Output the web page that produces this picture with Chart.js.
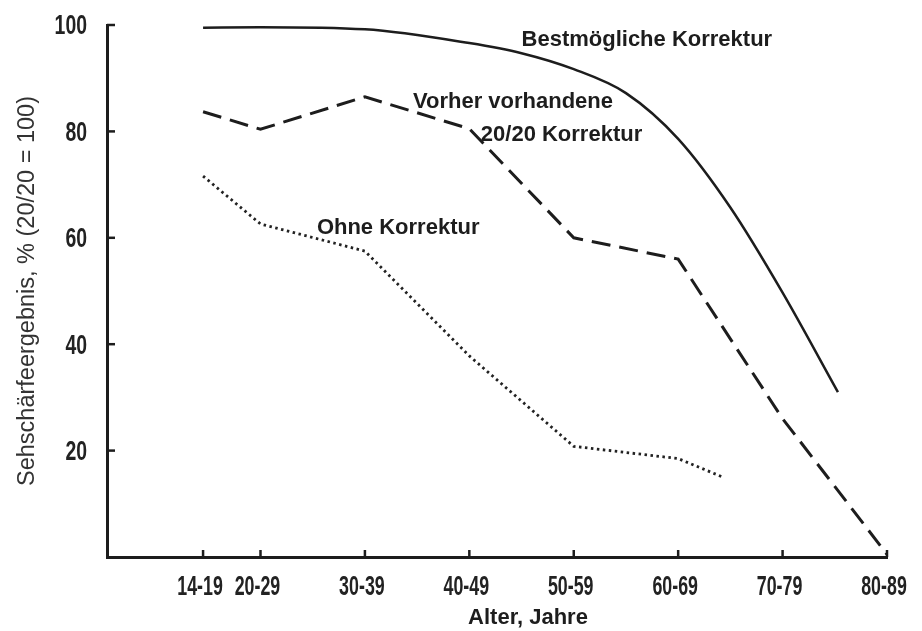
<!DOCTYPE html>
<html>
<head>
<meta charset="utf-8">
<script src="https://cdn.jsdelivr.net/npm/chart.js@4.4.1/dist/chart.umd.min.js"></script>
<style>
  html, body { margin: 0; padding: 0; background: #fff; }
  canvas { display: block; }
</style>
</head>
<body>
<canvas id="chart" width="922" height="631"></canvas>
<script>
// Age groups on the x axis and where each group sits on the age scale
const ageGroupLabels = ['14-19', '20-29', '30-39', '40-49', '50-59', '60-69', '70-79', '80-89'];
const ageGroupPositions = [14.5, 20, 30, 40, 50, 60, 70, 80];

// y axis ticks (visual acuity, 20/20 = 100)
const acuityTicks = [20, 40, 60, 80, 100];

// Best possible correction (smooth curve)
const bestAges = [14.5, 20, 30, 40, 45, 50, 55, 60, 65, 70, 75.3];
const bestValues = [99.5, 99.6, 99.2, 96.6, 94.7, 91.7, 87.2, 78.6, 65.7, 49.7, 31];

// Previously existing 20/20 correction (dashed)
const priorAges = [14.5, 20, 30, 40, 50, 60, 70, 80];
const priorValues = [83.7, 80.4, 86.5, 80.5, 60.0, 56.0, 26.0, 0.5];

// Without correction (dotted)
const noneAges = [14.5, 20, 30, 40, 50, 60, 64.3];
const noneValues = [71.6, 62.6, 57.5, 37.8, 20.8, 18.5, 15];

const seriesNames = ['Bestmögliche Korrektur', 'Vorher vorhandene 20/20 Korrektur', 'Ohne Korrektur'];
const xTitle = 'Alter, Jahre';
const yTitle = 'Sehschärfeergebnis, % (20/20 = 100)';

const ink = '#1d1d1d';
const textFont = '"Liberation Sans", Arial, sans-serif';

const toPoints = (xs, ys) => xs.map((x, i) => ({ x: x, y: ys[i] }));

// Tall, narrow tick numerals: the label text comes from each scale's ticks
function drawNarrow(ctx, text, cx, cy, squeeze, align) {
  ctx.save();
  ctx.translate(cx, cy);
  ctx.scale(squeeze, 1);
  ctx.textAlign = align;
  ctx.textBaseline = 'middle';
  ctx.fillText(text, 0, 0);
  ctx.restore();
}

// Inward tick marks, tick numerals, curve labels and axis titles
const annotate = {
  id: 'annotate',
  afterDraw(chart) {
    const { ctx, chartArea: a, scales: { x, y } } = chart;
    ctx.save();
    ctx.strokeStyle = ink;
    ctx.fillStyle = '#222';
    ctx.lineWidth = 2.5;
    ctx.lineCap = 'butt';

    y.ticks.forEach((t, i) => {
      const py = y.getPixelForTick(i);
      ctx.beginPath();
      ctx.moveTo(a.left, py);
      ctx.lineTo(a.left + 8, py);
      ctx.stroke();
      ctx.font = 'bold 27px ' + textFont;
      drawNarrow(ctx, t.label, a.left - 20, py + 2, 0.72, 'right');
    });
    x.ticks.forEach((t, i) => {
      const px = x.getPixelForTick(i);
      ctx.beginPath();
      ctx.moveTo(px, a.bottom);
      ctx.lineTo(px, a.bottom - 7);
      ctx.stroke();
      ctx.font = 'bold 27px ' + textFont;
      drawNarrow(ctx, t.label, px - 3, a.bottom + 31, 0.66, 'center');
    });

    // curve labels
    ctx.fillStyle = ink;
    ctx.textBaseline = 'middle';
    ctx.textAlign = 'left';
    ctx.font = 'bold 22px ' + textFont;
    ctx.fillText('Bestmögliche Korrektur', x.getPixelForValue(45.0), y.getPixelForValue(97.2));
    ctx.fillText('Vorher vorhandene', x.getPixelForValue(34.6), y.getPixelForValue(85.5));
    ctx.fillText('20/20 Korrektur', x.getPixelForValue(41.1), y.getPixelForValue(79.3));
    ctx.fillText('Ohne Korrektur', x.getPixelForValue(25.4), y.getPixelForValue(61.8));

    // axis titles
    ctx.textAlign = 'center';
    ctx.fillText(xTitle, a.left + 421, a.bottom + 61);
    ctx.save();
    ctx.translate(28, (a.top + a.bottom) / 2);
    ctx.rotate(-Math.PI / 2);
    ctx.font = '23.5px ' + textFont;
    ctx.fillStyle = '#333';
    ctx.fillText(yTitle, 0, 0);
    ctx.restore();
    ctx.restore();
  }
};

new Chart(document.getElementById('chart'), {
  type: 'line',
  data: {
    datasets: [
      {
        label: seriesNames[0],
        data: toPoints(bestAges, bestValues),
        borderColor: ink,
        borderWidth: 2.5,
        cubicInterpolationMode: 'monotone',
        pointRadius: 0
      },
      {
        label: seriesNames[1],
        data: toPoints(priorAges, priorValues),
        borderColor: ink,
        borderWidth: 3,
        borderDash: [19, 9],
        tension: 0,
        pointRadius: 0
      },
      {
        label: seriesNames[2],
        data: toPoints(noneAges, noneValues),
        borderColor: '#222',
        borderWidth: 2.8,
        borderDash: [2.5, 3.5],
        tension: 0,
        pointRadius: 0
      }
    ]
  },
  options: {
    responsive: false,
    animation: false,
    layout: { padding: { top: 25, right: 35, left: 0, bottom: 0 } },
    plugins: { legend: { display: false }, tooltip: { enabled: false } },
    scales: {
      x: {
        type: 'linear',
        min: 5.3,
        max: 80,
        afterFit: s => { s.height = 74; },
        afterBuildTicks: s => { s.ticks = ageGroupPositions.map(v => ({ value: v })); },
        grid: { display: false, drawTicks: false },
        border: { display: true, color: ink, width: 3 },
        ticks: {
          display: false,
          autoSkip: false,
          maxRotation: 0,
          callback: v => {
            const i = ageGroupPositions.indexOf(v);
            return i >= 0 ? ageGroupLabels[i] : '';
          }
        }
      },
      y: {
        type: 'linear',
        min: 0,
        max: 100,
        afterFit: s => { s.width = 107; },
        afterBuildTicks: s => { s.ticks = acuityTicks.map(v => ({ value: v })); },
        grid: { display: false, drawTicks: false },
        border: { display: true, color: ink, width: 3 },
        ticks: { display: false }
      }
    }
  },
  plugins: [annotate]
});
</script>
</body>
</html>
